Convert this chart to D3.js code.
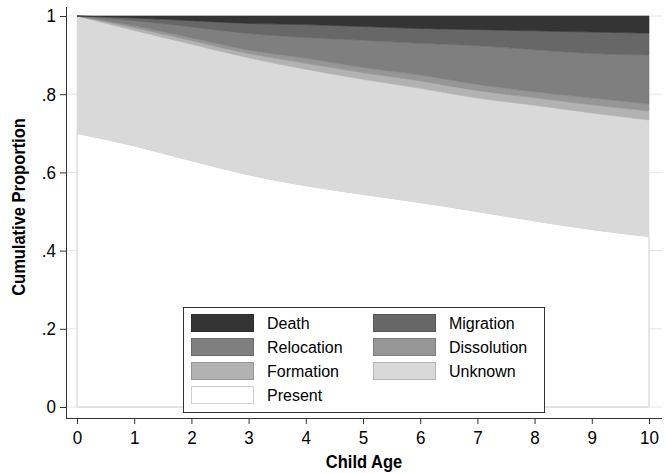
<!DOCTYPE html>
<html>
<head>
<meta charset="utf-8">
<script src="https://cdn.jsdelivr.net/npm/d3@7"></script>
<style>
  body { margin: 0; background: #fff; }
  text { font-family: "Liberation Sans", Arial, sans-serif; fill: #000; }
</style>
</head>
<body>
<div id="chart"></div>
<script>
// child age 0..10, share of children in each state (stacked bottom -> top)
const ages = [0, 1, 2, 3, 4, 5, 6, 7, 8, 9, 10];
const present     = [0.700, 0.668, 0.630, 0.594, 0.566, 0.544, 0.523, 0.500, 0.476, 0.454, 0.436];
const unknown     = [0.300, 0.295, 0.298, 0.299, 0.298, 0.294, 0.292, 0.290, 0.296, 0.298, 0.298];
const formation   = [0.000, 0.007, 0.009, 0.011, 0.015, 0.017, 0.019, 0.019, 0.019, 0.021, 0.023];
const dissolution = [0.000, 0.005, 0.007, 0.009, 0.013, 0.013, 0.015, 0.016, 0.015, 0.017, 0.018];
const relocation  = [0.000, 0.013, 0.028, 0.042, 0.053, 0.070, 0.081, 0.099, 0.108, 0.114, 0.125];
const migration   = [0.000, 0.007, 0.016, 0.026, 0.033, 0.035, 0.038, 0.041, 0.048, 0.055, 0.056];
const death       = [0.000, 0.005, 0.012, 0.019, 0.022, 0.027, 0.032, 0.035, 0.038, 0.041, 0.044];

const stackOrder = ['Present', 'Unknown', 'Formation', 'Dissolution', 'Relocation', 'Migration', 'Death'];
const seriesValues = [present, unknown, formation, dissolution, relocation, migration, death];
const legendOrder = ['Death', 'Migration', 'Relocation', 'Dissolution', 'Formation', 'Unknown', 'Present'];
const yTicks = [0, 0.2, 0.4, 0.6, 0.8, 1];
const yTickLabels = ['0', '.2', '.4', '.6', '.8', '1'];
const xTicks = ages;

const colors = {
    Death: '#343434',
    Migration: '#676767',
    Relocation: '#7f7f7f',
    Dissolution: '#969696',
    Formation: '#b2b2b2',
    Unknown: '#d9d9d9',
    Present: '#ffffff'
};

const width = 666, height = 473;
const fontSize = 17;
const stretch = 1.08;   // the original glyphs are a bit taller than they are wide

const rows = ages.map((a, i) => {
    const r = { age: a };
    stackOrder.forEach((k, j) => { r[k] = seriesValues[j][i]; });
    return r;
});
const stacked = d3.stack().keys(stackOrder)(rows);

const x = d3.scaleLinear().domain([0, 10]).range([77, 649]);
const y = d3.scaleLinear().domain([0, 1]).range([407, 16]);

const svg = d3.select('#chart').append('svg')
    .attr('width', width)
    .attr('height', height);

// gridlines
svg.append('g')
    .selectAll('line')
    .data(yTicks).enter()
    .append('line')
        .attr('x1', 66).attr('x2', 662)
        .attr('y1', d => y(d)).attr('y2', d => y(d))
        .attr('stroke', '#e6e6e6')
        .attr('stroke-width', 1);

const area = d3.area()
    .curve(d3.curveMonotoneX)
    .x(d => x(d.data.age))
    .y0(d => y(d[0]))
    .y1(d => y(d[1]));

svg.append('g')
    .selectAll('path')
    .data(stacked).enter()
    .append('path')
        .attr('d', area)
        .attr('fill', d => colors[d.key])
        .attr('stroke', d => d.key === 'Present' ? '#cfcfcf' : colors[d.key])
        .attr('stroke-width', d => d.key === 'Present' ? 1 : 0.6);

// y axis
const yAxis = svg.append('g')
    .attr('transform', 'translate(66,0)')
    .call(d3.axisLeft(y).tickValues(yTicks).tickFormat((d, i) => yTickLabels[i])
        .tickSize(6).tickPadding(4));
yAxis.select('.domain').attr('d', 'M0.5,7V418.5');
yAxis.selectAll('.tick text')
    .attr('transform', `scale(1,${stretch})`);

// x axis
const xAxis = svg.append('g')
    .attr('transform', 'translate(0,418)')
    .call(d3.axisBottom(x).tickValues(xTicks).tickFormat(d3.format('d'))
        .tickSize(6).tickPadding(8));
xAxis.select('.domain').attr('d', 'M66,0.5H662');
xAxis.selectAll('.tick text')
    .attr('y', 0).attr('dy', null)
    .attr('transform', `translate(0,26) scale(1,${stretch})`);

svg.selectAll('.tick text')
    .attr('font-size', fontSize)
    .attr('font-family', '"Liberation Sans", Arial, sans-serif');
svg.selectAll('.domain, .tick line').attr('stroke', '#333');

svg.append('text')
    .attr('transform', `translate(25,207) rotate(-90) scale(1,${stretch})`)
    .attr('text-anchor', 'middle')
    .attr('font-size', 16.5)
    .attr('font-weight', 'bold')
    .text('Cumulative Proportion');

svg.append('text')
    .attr('transform', `translate(364,468) scale(1,${stretch})`)
    .attr('text-anchor', 'middle')
    .attr('font-size', 16.5)
    .attr('font-weight', 'bold')
    .text('Child Age');

// legend
const legend = svg.append('g');
legend.append('rect')
    .attr('x', 183.5).attr('y', 307.5)
    .attr('width', 361).attr('height', 105)
    .attr('fill', '#fff')
    .attr('stroke', '#333');

const item = legend.selectAll('g.item')
    .data(legendOrder).enter()
    .append('g')
        .attr('class', 'item')
        .attr('transform', (d, i) => `translate(${i % 2 ? 373 : 191},${314 + Math.floor(i / 2) * 24})`);

item.append('rect')
    .attr('x', 0.5).attr('y', 0.5)
    .attr('width', 62).attr('height', 17)
    .attr('fill', d => colors[d])
    .attr('stroke', d => d === 'Present' ? '#cfcfcf' : d3.color(colors[d]).darker(0.5));

item.append('text')
    .attr('transform', `translate(76,15) scale(1,${stretch})`)
    .attr('font-size', 16)
    .text(d => d);
</script>
</body>
</html>
